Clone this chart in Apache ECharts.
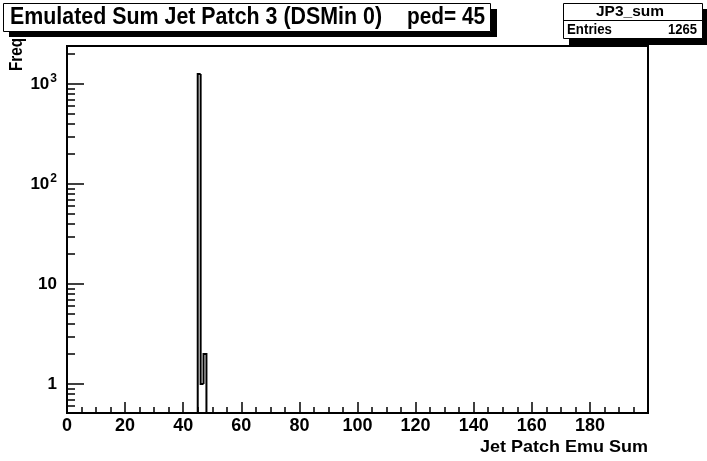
<!DOCTYPE html>
<html>
<head>
<meta charset="utf-8">
<script src="https://cdn.jsdelivr.net/npm/echarts@6/dist/echarts.min.js"></script>
<style>
html,body{margin:0;padding:0;background:#fff;}
#c{width:707px;height:461px;}
</style>
</head>
<body>
<div id="c"></div>
<script>
// ---- data ----
const binStart = [45, 46, 47];
const binCounts = [1262, 1, 2];
const binWidth = 1;
const xMin = 0, xMax = 200, xStep = 20;
const yMin = 0.513, yMax = 2400;
const yMajorTicks = [1, 10, 100, 1000];
const yMinorTicks = [0.6, 0.7, 0.8, 0.9, 2, 3, 4, 5, 6, 7, 8, 9, 20, 30, 40, 50, 60, 70, 80, 90,
                     200, 300, 400, 500, 600, 700, 800, 900, 2000];
const titlePart1 = 'Emulated Sum Jet Patch 3 (DSMin 0)';
const titlePart2 = 'ped= 45';
const statsName = 'JP3_sum';
const statsLabel = 'Entries';
const statsValue = '1265';
const xTitle = 'Jet Patch Emu Sum';
const yTitle = 'Freq';

const FONT = '"Liberation Sans", Arial, Helvetica, sans-serif';
const cv = document.createElement('canvas').getContext('2d');
function fitScale(str, size, target) {
  cv.font = 'bold ' + size + 'px ' + FONT;
  return target / cv.measureText(str).width;
}

const last = binStart.length - 1;
const histData = binStart.map((x, i) => [x, x + binWidth, i === 0 ? yMin : binCounts[i - 1], binCounts[i], i === last ? 1 : 0]);

const chart = echarts.init(document.getElementById('c'), null, {renderer: 'canvas'});

const option = {
  backgroundColor: '#fff',
  animation: false,
  grid: {left: 67, top: 46, right: 59, bottom: 48, show: true, borderColor: '#000', borderWidth: 2, backgroundColor: 'transparent'},
  xAxis: {
    type: 'value', min: xMin, max: xMax, interval: xStep,
    axisLine: {show: false},
    axisTick: {show: true, inside: true, length: 11, lineStyle: {color: '#000', width: 1.5}},
    minorTick: {show: true, splitNumber: 4, length: 6, lineStyle: {color: '#000', width: 1.5}},
    splitLine: {show: false},
    axisLabel: {
      color: '#000', fontFamily: FONT, fontWeight: 'bold', fontSize: 18, margin: 4,
      formatter: v => (v >= xMax ? '' : String(v))
    }
  },
  yAxis: [
    {
      type: 'log', logBase: 10, min: yMin, max: yMax,
      axisLine: {show: false},
      axisTick: {show: true, inside: true, length: 17, customValues: yMajorTicks, lineStyle: {color: '#000', width: 1.5}},
      splitLine: {show: false},
      minorTick: {show: false},
      axisLabel: {
        customValues: yMajorTicks, margin: 10, color: '#000',
        fontFamily: FONT, fontWeight: 'bold', fontSize: 17,
        formatter: v => {
          const e = Math.round(Math.log10(v));
          if (e >= 2) return '{b|10}{s|' + e + '}';
          return '{b|' + Math.round(v) + '}';
        },
        rich: {
          b: {fontFamily: FONT, fontWeight: 'bold', fontSize: 17, color: '#000'},
          s: {fontFamily: FONT, fontWeight: 'bold', fontSize: 12, color: '#000', verticalAlign: 'bottom', padding: [0, 0, 10, 1]}
        }
      }
    },
    {
      type: 'log', logBase: 10, min: yMin, max: yMax, position: 'left',
      axisLine: {show: false},
      axisTick: {show: true, inside: true, length: 8, customValues: yMinorTicks, lineStyle: {color: '#000', width: 1.5}},
      splitLine: {show: false},
      axisLabel: {show: false}
    }
  ],
  series: [{
    type: 'custom',
    clip: true,
    data: histData,
    encode: {x: [0, 1], y: [2, 3]},
    renderItem: (params, api) => {
      const x0 = api.value(0), x1 = api.value(1), prev = api.value(2), v = api.value(3), isLast = api.value(4);
      const pts = [api.coord([x0, prev]), api.coord([x0, v]), api.coord([x1, v])];
      if (isLast) pts.push(api.coord([x1, yMin]));
      return {type: 'polyline', shape: {points: pts}, style: {stroke: '#000', lineWidth: 2, fill: null}};
    }
  }],
  graphic: [
    // title pave
    {type: 'rect', shape: {x: 9, y: 9, width: 488, height: 28}, style: {fill: '#000'}, z: 10},
    {type: 'rect', shape: {x: 3.5, y: 3.5, width: 487, height: 28}, style: {fill: '#fff', stroke: '#000', lineWidth: 1}, z: 11},
    {type: 'text', x: 10, y: 18, scaleX: fitScale(titlePart1, 23, 372), z: 12,
     style: {text: titlePart1, font: 'bold 23px ' + FONT, fill: '#000', verticalAlign: 'middle', align: 'left'}},
    {type: 'text', x: 407, y: 18, scaleX: fitScale(titlePart2, 23, 78), z: 12,
     style: {text: titlePart2, font: 'bold 23px ' + FONT, fill: '#000', verticalAlign: 'middle', align: 'left'}},
    // stats pave
    {type: 'rect', shape: {x: 569, y: 9, width: 140, height: 36}, style: {fill: '#000'}, z: 10},
    {type: 'rect', shape: {x: 563.5, y: 3.5, width: 139, height: 35}, style: {fill: '#fff', stroke: '#000', lineWidth: 1}, z: 11},
    {type: 'line', shape: {x1: 563.5, y1: 20.5, x2: 702.5, y2: 20.5}, style: {stroke: '#000', lineWidth: 1}, z: 12},
    {type: 'text', x: 596, y: 12, scaleX: fitScale(statsName, 15, 68), z: 12,
     style: {text: statsName, font: 'bold 15px ' + FONT, fill: '#000', verticalAlign: 'middle', align: 'left'}},
    {type: 'text', x: 567, y: 30, scaleX: fitScale(statsLabel, 15, 45), z: 12,
     style: {text: statsLabel, font: 'bold 15px ' + FONT, fill: '#000', verticalAlign: 'middle', align: 'left'}},
    {type: 'text', x: 668, y: 30, scaleX: fitScale(statsValue, 15, 29), z: 12,
     style: {text: statsValue, font: 'bold 15px ' + FONT, fill: '#000', verticalAlign: 'middle', align: 'left'}},
    // axis titles
    {type: 'text', x: 480, y: 447, scaleX: fitScale(xTitle, 17, 168), z: 12,
     style: {text: xTitle, font: 'bold 17px ' + FONT, fill: '#000', verticalAlign: 'middle', align: 'left'}},
    {type: 'text', x: 17, y: 71, rotation: Math.PI / 2, scaleX: fitScale(yTitle, 18, 33), z: 20,
     style: {text: yTitle, font: 'bold 18px ' + FONT, fill: '#000', verticalAlign: 'middle', align: 'left'}}
  ]
};
chart.setOption(option);
</script>
</body>
</html>
